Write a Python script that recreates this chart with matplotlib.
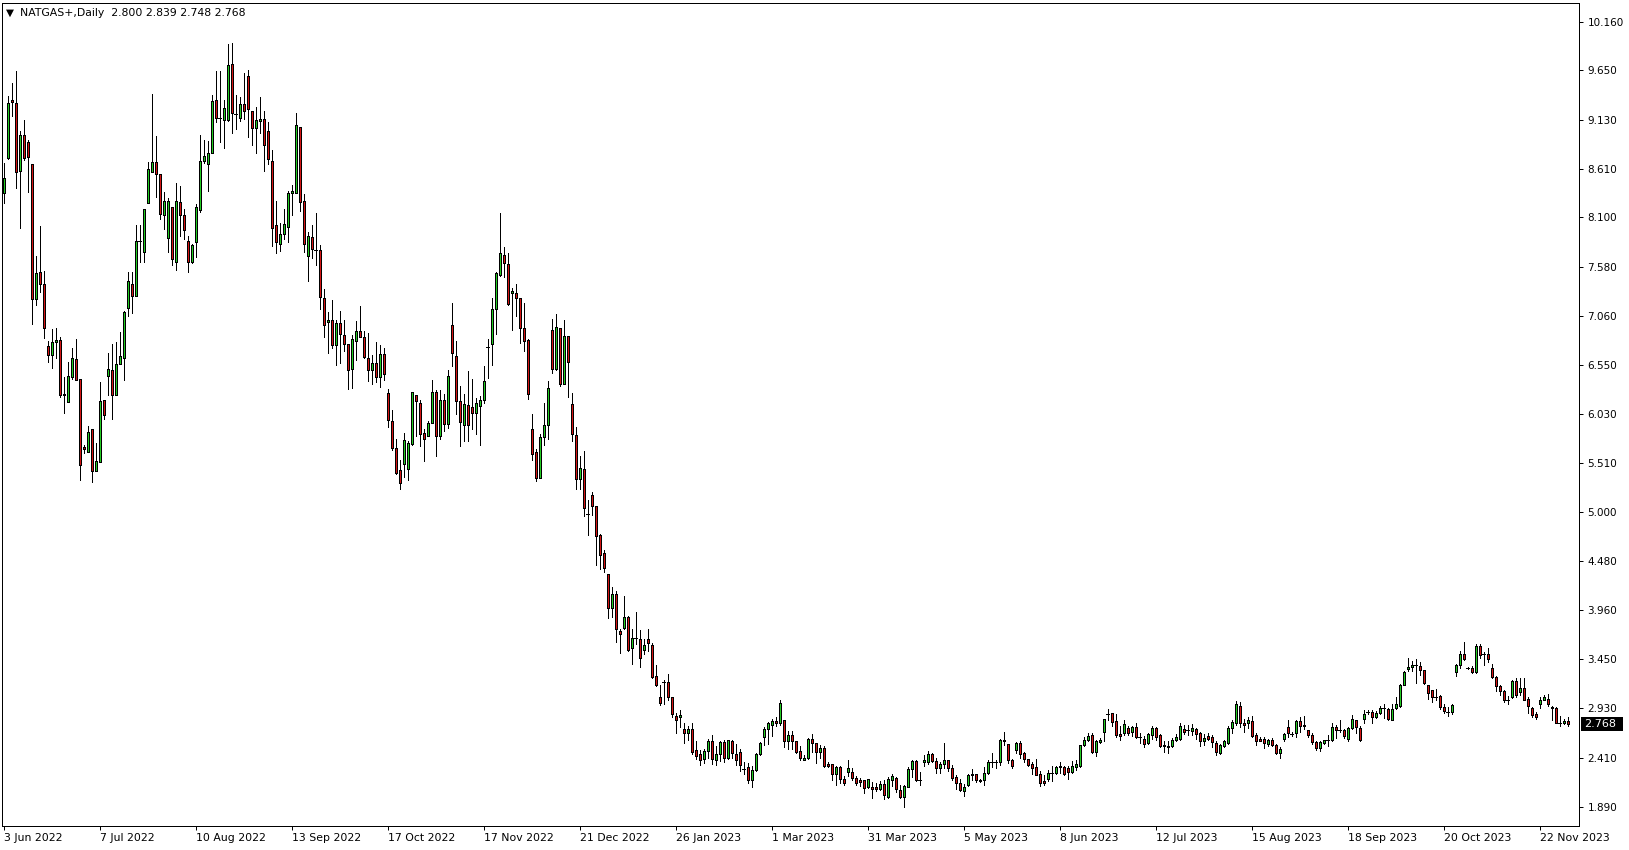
import matplotlib
matplotlib.use("Agg")
import matplotlib.pyplot as plt
import matplotlib.transforms as mtransforms
from matplotlib.patches import Rectangle

# daily NATGAS+ candles, 3 Jun 2022 .. end Nov 2023 (one entry per bar)
opens = [
    8.36, 8.73, 9.34, 9.31, 8.59, 8.97, 8.89, 8.66, 7.24, 7.52,
    7.40, 6.75, 6.65, 6.79, 6.81, 6.23, 6.16, 6.42, 6.61, 6.40,
    5.68, 5.63, 5.87, 5.43, 5.52, 6.18, 6.43, 6.49, 6.23, 6.56,
    6.62, 7.15, 7.40, 7.27, 7.85, 7.74, 8.25, 8.58, 8.68, 8.56,
    8.13, 7.88, 8.21, 7.63, 8.26, 8.12, 7.85, 7.63, 7.84, 8.18,
    8.69, 8.66, 8.78, 9.34, 9.15, 9.13, 9.13, 9.72, 9.19, 9.15,
    9.29, 9.59, 9.22, 9.04, 9.11, 9.14, 9.01, 8.69, 8.02, 7.82,
    7.93, 8.00, 8.36, 8.36, 9.05, 8.27, 7.69, 7.89, 7.76, 7.76,
    7.25, 7.00, 7.02, 6.76, 6.99, 6.86, 6.77, 6.50, 6.80, 6.90,
    6.84, 6.62, 6.49, 6.57, 6.42, 6.66, 6.25, 5.96, 5.67, 5.44,
    5.50, 5.45, 5.71, 6.23, 6.14, 5.83, 5.80, 5.93, 6.26, 5.80,
    6.18, 5.92, 6.97, 6.64, 6.17, 5.91, 6.12, 6.10, 6.04, 6.11,
    6.18, 6.73, 6.77, 7.14, 7.49, 7.70, 7.61, 7.30, 7.30, 7.25,
    6.93, 6.81, 5.87, 5.63, 5.36, 5.79, 5.91, 6.91, 6.50, 6.93,
    6.35, 6.85, 6.13, 5.81, 5.34, 5.45, 4.98, 5.18, 5.06, 4.76,
    4.57, 4.34, 3.99, 4.13, 3.74, 3.78, 3.89, 3.56, 3.67, 3.66,
    3.54, 3.66, 3.60, 3.27, 3.05, 3.21, 3.21, 3.05, 2.85, 2.84,
    2.71, 2.67, 2.71, 2.49, 2.45, 2.40, 2.48, 2.59, 2.39, 2.45,
    2.57, 2.41, 2.59, 2.45, 2.47, 2.29, 2.31, 2.17, 2.28, 2.45,
    2.63, 2.71, 2.75, 2.80, 2.78, 2.81, 2.58, 2.65, 2.59, 2.48,
    2.38, 2.41, 2.61, 2.56, 2.47, 2.51, 2.34, 2.34, 2.24, 2.31,
    2.19, 2.26, 2.26, 2.20, 2.17, 2.17, 2.10, 2.10, 2.10, 2.08,
    2.13, 2.00, 2.17, 2.20, 2.07, 2.00, 2.10, 2.29, 2.37, 2.17,
    2.36, 2.36, 2.45, 2.37, 2.30, 2.34, 2.39, 2.30, 2.21, 2.14,
    2.06, 2.12, 2.24, 2.24, 2.17, 2.17, 2.25, 2.36, 2.36, 2.36,
    2.60, 2.55, 2.39, 2.49, 2.56, 2.46, 2.40, 2.34, 2.31, 2.24,
    2.16, 2.18, 2.25, 2.25, 2.31, 2.31, 2.30, 2.26, 2.31, 2.32,
    2.54, 2.60, 2.65, 2.47, 2.57, 2.68, 2.87, 2.88, 2.80, 2.66,
    2.67, 2.72, 2.68, 2.73, 2.63, 2.61, 2.56, 2.65, 2.72, 2.65,
    2.54, 2.53, 2.53, 2.60, 2.61, 2.71, 2.70, 2.69, 2.71, 2.67,
    2.58, 2.64, 2.63, 2.56, 2.46, 2.53, 2.56, 2.72, 2.78, 2.95,
    2.78, 2.77, 2.80, 2.65, 2.61, 2.61, 2.55, 2.60, 2.54, 2.46,
    2.61, 2.73, 2.66, 2.67, 2.80, 2.75, 2.70, 2.65, 2.57, 2.51,
    2.56, 2.60, 2.60, 2.73, 2.70, 2.70, 2.61, 2.72, 2.81, 2.72,
    2.82, 2.89, 2.89, 2.84, 2.88, 2.93, 2.92, 2.81, 2.93, 2.95,
    3.18, 3.34, 3.36, 3.39, 3.38, 3.33, 3.18, 3.12, 3.05, 3.06,
    2.94, 2.89, 2.89, 3.31, 3.39, 3.50, 3.35, 3.35, 3.31, 3.59,
    3.50, 3.50, 3.35, 3.26, 3.16, 3.11, 3.02, 3.05, 3.22, 3.10,
    3.14, 3.03, 2.93, 2.87, 2.98, 3.02, 3.03, 2.94, 2.93, 2.77,
    2.77, 2.800,
]
highs = [
    8.67, 9.38, 9.52, 9.64, 9.01, 9.13, 8.92, 8.66, 7.69, 8.01,
    7.54, 6.80, 6.92, 6.93, 6.84, 6.42, 6.58, 6.72, 6.82, 6.40,
    5.70, 5.90, 5.87, 5.72, 6.37, 6.18, 6.67, 6.77, 6.79, 6.89,
    7.11, 7.53, 7.53, 8.02, 8.02, 8.19, 8.68, 9.40, 8.96, 8.56,
    8.37, 8.30, 8.21, 8.46, 8.43, 8.19, 7.90, 7.82, 8.24, 8.97,
    8.91, 8.90, 9.39, 9.64, 9.64, 9.34, 9.93, 9.94, 9.39, 9.37,
    9.62, 9.65, 9.22, 9.26, 9.37, 9.22, 9.10, 8.81, 8.27, 8.04,
    8.19, 8.38, 8.44, 9.20, 9.05, 8.35, 7.95, 8.02, 8.15, 7.81,
    7.35, 7.10, 7.23, 7.02, 7.11, 7.02, 6.77, 6.86, 7.01, 7.17,
    6.90, 6.88, 6.65, 6.79, 6.76, 6.72, 6.29, 6.07, 5.77, 5.55,
    5.83, 5.74, 6.26, 6.23, 6.18, 5.87, 5.96, 6.39, 6.28, 6.28,
    6.24, 6.49, 7.20, 6.80, 6.32, 6.24, 6.48, 6.40, 6.20, 6.22,
    6.54, 6.82, 7.25, 7.53, 8.15, 7.79, 7.73, 7.36, 7.40, 7.25,
    7.20, 6.82, 6.03, 5.66, 5.82, 6.14, 6.38, 7.03, 7.08, 6.93,
    7.02, 6.85, 6.25, 5.89, 5.59, 5.64, 5.12, 5.21, 5.06, 4.77,
    4.60, 4.34, 4.21, 4.16, 3.76, 4.11, 3.90, 3.76, 3.94, 3.75,
    3.66, 3.77, 3.62, 3.39, 3.18, 3.23, 3.29, 3.05, 2.88, 2.91,
    2.77, 2.74, 2.77, 2.59, 2.49, 2.50, 2.61, 2.65, 2.53, 2.58,
    2.60, 2.60, 2.60, 2.55, 2.50, 2.36, 2.35, 2.32, 2.46, 2.57,
    2.73, 2.79, 2.82, 2.84, 3.02, 2.81, 2.69, 2.69, 2.59, 2.53,
    2.44, 2.62, 2.66, 2.56, 2.54, 2.53, 2.36, 2.34, 2.32, 2.32,
    2.22, 2.38, 2.30, 2.22, 2.20, 2.17, 2.19, 2.15, 2.14, 2.16,
    2.17, 2.21, 2.24, 2.21, 2.12, 2.12, 2.31, 2.38, 2.38, 2.26,
    2.44, 2.48, 2.46, 2.41, 2.36, 2.56, 2.39, 2.33, 2.23, 2.18,
    2.13, 2.24, 2.29, 2.24, 2.18, 2.31, 2.38, 2.46, 2.39, 2.61,
    2.68, 2.55, 2.40, 2.57, 2.59, 2.47, 2.40, 2.36, 2.40, 2.27,
    2.23, 2.28, 2.32, 2.32, 2.36, 2.32, 2.32, 2.37, 2.39, 2.54,
    2.63, 2.67, 2.67, 2.60, 2.62, 2.82, 2.92, 2.88, 2.87, 2.74,
    2.81, 2.74, 2.74, 2.77, 2.67, 2.64, 2.67, 2.74, 2.73, 2.66,
    2.58, 2.58, 2.62, 2.66, 2.77, 2.75, 2.75, 2.76, 2.72, 2.68,
    2.66, 2.67, 2.65, 2.58, 2.55, 2.60, 2.74, 2.81, 3.01, 3.00,
    2.82, 2.84, 2.85, 2.67, 2.63, 2.63, 2.61, 2.62, 2.55, 2.52,
    2.67, 2.81, 2.68, 2.81, 2.84, 2.85, 2.70, 2.67, 2.58, 2.59,
    2.60, 2.65, 2.77, 2.75, 2.81, 2.71, 2.73, 2.86, 2.81, 2.74,
    2.91, 2.91, 2.91, 2.90, 2.95, 2.98, 2.93, 2.98, 3.05, 3.19,
    3.32, 3.46, 3.43, 3.45, 3.42, 3.33, 3.18, 3.12, 3.13, 3.07,
    2.98, 2.94, 2.98, 3.40, 3.53, 3.63, 3.36, 3.37, 3.61, 3.61,
    3.52, 3.56, 3.40, 3.27, 3.18, 3.12, 3.06, 3.23, 3.25, 3.25,
    3.25, 3.05, 2.94, 2.89, 3.05, 3.07, 3.08, 2.95, 2.94, 2.85,
    2.82, 2.839,
]
lows = [
    8.25, 8.72, 9.17, 8.41, 7.99, 8.70, 8.37, 6.98, 7.18, 7.31,
    6.83, 6.58, 6.51, 6.62, 6.21, 6.04, 6.16, 6.40, 6.39, 5.33,
    5.62, 5.63, 5.31, 5.43, 5.52, 5.98, 6.23, 5.98, 6.23, 6.56,
    6.39, 7.06, 7.09, 7.27, 7.63, 7.63, 8.25, 8.58, 8.32, 8.08,
    7.98, 7.74, 7.60, 7.55, 7.90, 7.87, 7.53, 7.62, 7.68, 8.16,
    8.67, 8.38, 8.78, 9.10, 8.89, 8.83, 9.11, 8.99, 9.03, 9.12,
    9.14, 8.95, 8.86, 8.78, 8.99, 8.59, 8.66, 7.80, 7.73, 7.75,
    7.87, 7.84, 8.13, 8.36, 8.17, 7.74, 7.43, 7.67, 7.60, 7.14,
    6.84, 6.67, 6.72, 6.55, 6.57, 6.69, 6.29, 6.30, 6.60, 6.84,
    6.62, 6.38, 6.35, 6.37, 6.31, 6.39, 5.89, 5.65, 5.40, 5.24,
    5.37, 5.33, 5.70, 5.80, 5.69, 5.53, 5.80, 5.93, 5.59, 5.77,
    5.85, 5.88, 6.53, 6.03, 5.69, 5.74, 5.75, 5.87, 5.82, 5.70,
    6.14, 6.41, 6.55, 6.87, 7.48, 7.47, 7.18, 6.91, 7.06, 6.78,
    6.69, 6.19, 5.54, 5.32, 5.36, 5.70, 5.77, 6.46, 6.49, 6.32,
    6.35, 6.21, 5.74, 5.24, 5.24, 4.96, 4.76, 4.97, 4.44, 4.40,
    4.36, 3.88, 3.89, 3.63, 3.51, 3.76, 3.53, 3.40, 3.61, 3.36,
    3.50, 3.53, 3.25, 3.16, 2.96, 2.97, 3.02, 2.84, 2.67, 2.73,
    2.56, 2.60, 2.45, 2.40, 2.33, 2.35, 2.41, 2.34, 2.33, 2.37,
    2.36, 2.40, 2.41, 2.33, 2.27, 2.24, 2.14, 2.10, 2.27, 2.44,
    2.54, 2.55, 2.64, 2.74, 2.75, 2.52, 2.50, 2.50, 2.46, 2.39,
    2.38, 2.40, 2.47, 2.35, 2.41, 2.31, 2.31, 2.17, 2.12, 2.14,
    2.12, 2.22, 2.17, 2.12, 2.11, 2.04, 2.09, 1.98, 2.06, 2.07,
    1.97, 1.99, 2.11, 2.05, 1.98, 1.89, 2.10, 2.21, 2.16, 2.12,
    2.32, 2.34, 2.36, 2.25, 2.25, 2.30, 2.27, 2.17, 2.08, 2.06,
    2.01, 2.11, 2.17, 2.15, 2.15, 2.12, 2.24, 2.31, 2.30, 2.33,
    2.54, 2.35, 2.30, 2.46, 2.41, 2.36, 2.32, 2.24, 2.23, 2.11,
    2.12, 2.16, 2.16, 2.24, 2.25, 2.23, 2.18, 2.25, 2.28, 2.31,
    2.53, 2.58, 2.46, 2.43, 2.56, 2.59, 2.81, 2.74, 2.63, 2.60,
    2.65, 2.65, 2.64, 2.62, 2.56, 2.52, 2.55, 2.61, 2.60, 2.52,
    2.47, 2.46, 2.52, 2.58, 2.60, 2.66, 2.65, 2.65, 2.61, 2.53,
    2.54, 2.60, 2.52, 2.44, 2.45, 2.52, 2.55, 2.67, 2.75, 2.73,
    2.68, 2.72, 2.63, 2.54, 2.58, 2.51, 2.53, 2.53, 2.45, 2.41,
    2.58, 2.63, 2.64, 2.63, 2.68, 2.71, 2.63, 2.55, 2.49, 2.48,
    2.55, 2.53, 2.59, 2.62, 2.68, 2.62, 2.58, 2.71, 2.67, 2.58,
    2.78, 2.87, 2.78, 2.83, 2.87, 2.83, 2.81, 2.81, 2.92, 2.94,
    3.17, 3.32, 3.32, 3.20, 3.28, 3.19, 3.03, 3.00, 3.02, 2.92,
    2.88, 2.85, 2.87, 3.27, 3.35, 3.44, 3.34, 3.30, 3.30, 3.46,
    3.39, 3.42, 3.25, 3.11, 3.07, 3.00, 2.98, 3.04, 3.05, 3.07,
    3.02, 2.88, 2.84, 2.82, 2.93, 3.02, 2.95, 2.81, 2.77, 2.74,
    2.76, 2.748,
]
closes = [
    8.51, 9.31, 9.32, 8.58, 8.97, 8.73, 8.74, 7.24, 7.51, 7.40,
    6.94, 6.65, 6.79, 6.81, 6.23, 6.24, 6.43, 6.62, 6.39, 5.49,
    5.66, 5.84, 5.43, 5.53, 6.17, 6.02, 6.50, 6.23, 6.56, 6.64,
    7.10, 7.43, 7.27, 7.85, 7.85, 8.19, 8.61, 8.68, 8.56, 8.14,
    8.27, 8.27, 7.66, 8.27, 8.12, 7.97, 7.63, 7.81, 8.21, 8.69,
    8.75, 8.78, 9.33, 9.15, 9.15, 9.25, 9.71, 9.20, 9.19, 9.29,
    9.22, 9.24, 9.04, 9.13, 9.14, 8.86, 8.71, 7.99, 7.84, 7.93,
    8.03, 8.36, 8.38, 9.07, 8.26, 7.82, 7.90, 7.77, 7.76, 7.26,
    6.97, 7.02, 6.76, 6.99, 6.87, 6.77, 6.49, 6.82, 6.90, 6.84,
    6.63, 6.49, 6.57, 6.42, 6.66, 6.45, 5.97, 5.67, 5.41, 5.30,
    5.76, 5.72, 6.26, 6.17, 5.82, 5.77, 5.93, 6.26, 5.80, 6.18,
    5.92, 6.43, 6.67, 6.17, 5.94, 6.13, 5.91, 6.04, 6.14, 6.18,
    6.38, 6.73, 7.14, 7.51, 7.73, 7.62, 7.19, 7.32, 7.25, 6.94,
    6.80, 6.24, 5.61, 5.36, 5.79, 5.91, 6.30, 6.50, 6.95, 6.35,
    6.85, 6.58, 5.82, 5.34, 5.46, 5.04, 4.98, 5.06, 4.74, 4.54,
    4.41, 3.99, 4.13, 3.76, 3.71, 3.89, 3.54, 3.67, 3.67, 3.46,
    3.60, 3.62, 3.26, 3.18, 2.99, 3.21, 3.05, 2.87, 2.81, 2.86,
    2.67, 2.71, 2.47, 2.43, 2.38, 2.48, 2.59, 2.40, 2.45, 2.57,
    2.41, 2.60, 2.46, 2.38, 2.33, 2.29, 2.17, 2.28, 2.45, 2.56,
    2.71, 2.77, 2.80, 2.77, 2.99, 2.58, 2.65, 2.58, 2.47, 2.41,
    2.41, 2.61, 2.56, 2.47, 2.51, 2.32, 2.32, 2.24, 2.31, 2.19,
    2.14, 2.30, 2.20, 2.14, 2.15, 2.09, 2.18, 2.08, 2.08, 2.13,
    2.02, 2.18, 2.22, 2.08, 2.00, 2.11, 2.29, 2.37, 2.17, 2.17,
    2.38, 2.45, 2.37, 2.30, 2.34, 2.39, 2.30, 2.20, 2.14, 2.07,
    2.10, 2.23, 2.23, 2.17, 2.16, 2.25, 2.36, 2.36, 2.36, 2.60,
    2.58, 2.38, 2.32, 2.56, 2.45, 2.40, 2.33, 2.30, 2.23, 2.14,
    2.14, 2.25, 2.25, 2.31, 2.32, 2.24, 2.26, 2.32, 2.34, 2.54,
    2.60, 2.64, 2.47, 2.58, 2.60, 2.82, 2.87, 2.79, 2.65, 2.64,
    2.76, 2.67, 2.73, 2.63, 2.63, 2.55, 2.66, 2.72, 2.63, 2.53,
    2.53, 2.52, 2.60, 2.63, 2.74, 2.68, 2.70, 2.72, 2.66, 2.58,
    2.62, 2.61, 2.57, 2.47, 2.54, 2.58, 2.72, 2.79, 2.97, 2.77,
    2.75, 2.81, 2.64, 2.59, 2.59, 2.56, 2.60, 2.54, 2.46, 2.50,
    2.66, 2.67, 2.66, 2.80, 2.74, 2.74, 2.65, 2.57, 2.51, 2.57,
    2.60, 2.60, 2.73, 2.70, 2.70, 2.64, 2.72, 2.82, 2.73, 2.60,
    2.87, 2.89, 2.84, 2.88, 2.93, 2.93, 2.82, 2.92, 2.97, 3.18,
    3.31, 3.36, 3.39, 3.39, 3.33, 3.20, 3.09, 3.05, 3.05, 2.94,
    2.90, 2.89, 2.96, 3.39, 3.50, 3.45, 3.35, 3.31, 3.59, 3.49,
    3.50, 3.45, 3.26, 3.16, 3.11, 3.02, 3.02, 3.22, 3.07, 3.14,
    3.02, 2.95, 2.86, 2.84, 3.02, 3.05, 2.98, 2.93, 2.77, 2.77,
    2.80, 2.768,
]

date_labels = ['3 Jun 2022', '7 Jul 2022', '10 Aug 2022', '13 Sep 2022',
               '17 Oct 2022', '17 Nov 2022', '21 Dec 2022', '26 Jan 2023',
               '1 Mar 2023', '31 Mar 2023', '5 May 2023', '8 Jun 2023',
               '12 Jul 2023', '15 Aug 2023', '18 Sep 2023', '20 Oct 2023',
               '22 Nov 2023']
label_every = 24   # bars between date labels

price_labels = ['1.890', '2.410', '2.930', '3.450', '3.960', '4.480', '5.000',
                '5.510', '6.030', '6.550', '7.060', '7.580', '8.100', '8.610',
                '9.130', '9.650', '10.160']

title = 'NATGAS+,Daily  2.800 2.839 2.748 2.768'
last_price = 2.768

bull_col = '#22cc22'
bear_col = '#d41414'

W, H = 1629, 850
fig = plt.figure(figsize=(W / 100, H / 100), dpi=100)
fig.patch.set_facecolor('white')
ax = fig.add_axes([2 / W, 24 / H, 1577 / W, 823 / H])

px = 0.72  # one pixel in points
for i in range(len(closes)):
    o, h, l, c = opens[i], highs[i], lows[i], closes[i]
    ax.vlines(i, min(l, o, c), max(h, o, c), color='black', lw=px, antialiased=False)
    if abs(c - o) < 0.005:
        ax.hlines(o, i - 0.375, i + 0.375, color='black', lw=px, antialiased=False)
    else:
        fill = bull_col if c > o else bear_col
        ax.add_patch(Rectangle((i - 0.25, min(o, c)), 0.5, abs(c - o),
                               facecolor=fill, edgecolor='black', lw=px,
                               antialiased=False, zorder=3))

ax.set_xlim(-0.375, 393.875)
ax.set_ylim(1.690, 10.358)

ax.set_xticks([k * label_every for k in range(len(date_labels))])
ax.set_xticklabels(date_labels, ha='left', fontsize=7.8)
ax.set_yticks([float(v) for v in price_labels])
ax.set_yticklabels(price_labels, fontsize=7.5)
ax.yaxis.tick_right()
ax.tick_params(axis='y', direction='out', length=3, width=px, pad=3)
ax.tick_params(axis='x', direction='out', length=3, width=px, pad=2)
for s in ax.spines.values():
    s.set_linewidth(px)
    s.set_color('black')

# current price box on the price scale
trans = mtransforms.blended_transform_factory(fig.transFigure, ax.transData)
ax.add_patch(Rectangle((1581 / W, last_price - 0.074), 42 / W, 0.148,
                       transform=trans, facecolor='black', edgecolor='none',
                       clip_on=False, zorder=5))
ax.text(1584 / W, last_price, '%.3f' % last_price, transform=trans,
        fontsize=8, color='white', va='center', ha='left', zorder=6)

fig.text(6 / W, 1 - 12.5 / H, '\u25bc', fontsize=7.5, va='center', ha='left')
fig.text(20 / W, 1 - 12.5 / H, title, fontsize=7.8, va='center', ha='left')

fig.savefig('out.png', dpi=100)
